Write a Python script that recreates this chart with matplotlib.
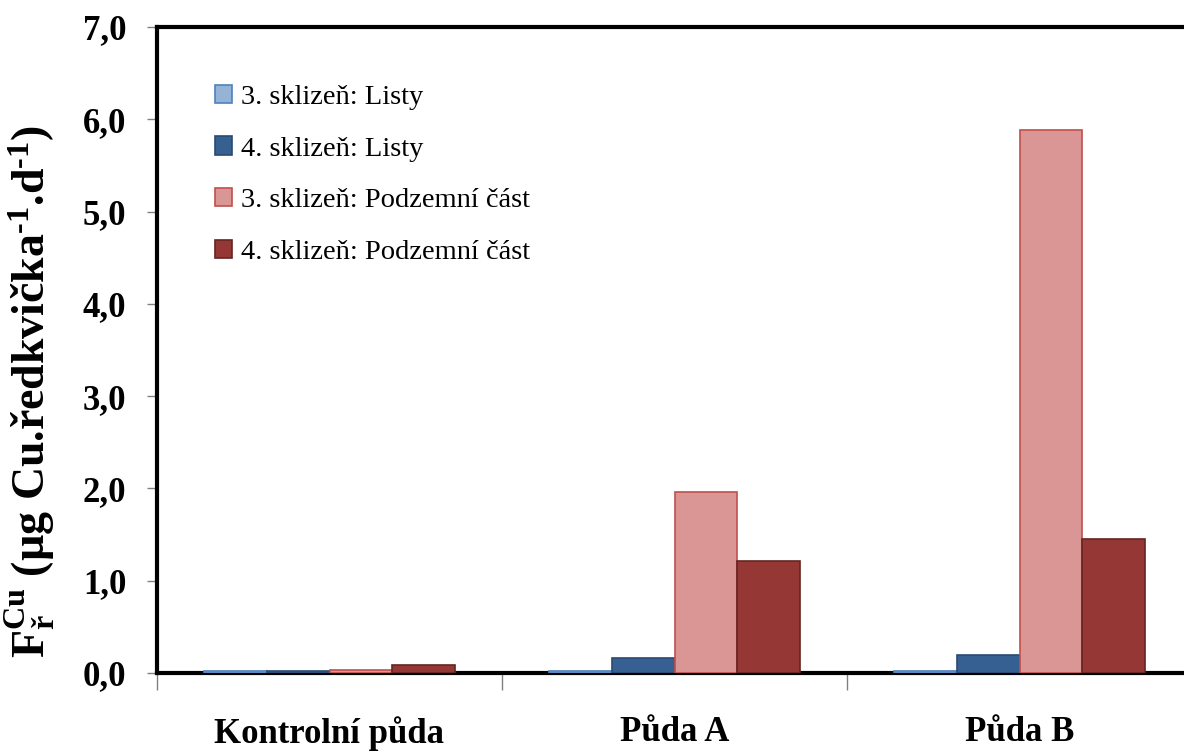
import matplotlib
matplotlib.use("Agg")
import matplotlib.pyplot as plt
import numpy as np
from matplotlib.ticker import FixedLocator, FuncFormatter

plt.rcParams['font.family'] = ['Liberation Serif', 'DejaVu Serif']
plt.rcParams['mathtext.fontset'] = 'custom'
plt.rcParams['mathtext.rm'] = 'Liberation Serif:bold'
plt.rcParams['mathtext.bf'] = 'Liberation Serif:bold'
plt.rcParams['mathtext.it'] = 'Liberation Serif:bold'

categories = ["Kontrolní půda", "Půda A", "Půda B"]
series_names = ["3. sklizeň: Listy", "4. sklizeň: Listy",
                "3. sklizeň: Podzemní část", "4. sklizeň: Podzemní část"]
listy_3 = [0.02, 0.02, 0.02]
listy_4 = [0.02, 0.16, 0.20]
podzemni_3 = [0.03, 1.96, 5.88]
podzemni_4 = [0.09, 1.21, 1.45]
y_ticks = [0, 1, 2, 3, 4, 5, 6, 7]

series = [listy_3, listy_4, podzemni_3, podzemni_4]
faces = ["#95B3D7", "#376092", "#D99694", "#953735"]
edges = ["#4F81BD", "#2A4A72", "#C0504D", "#632523"]

fig = plt.figure(figsize=(11.84, 7.51), dpi=100)
ax = fig.add_axes([157/1184, 1-673/751, (1192-157)/1184, (673-27)/751])

x = np.arange(len(categories))
bw = 1.0 / 5.5
for i, (vals, fc, ec, name) in enumerate(zip(series, faces, edges, series_names)):
    ax.bar(x + (i - 1.5) * bw, vals, width=bw, color=fc, edgecolor=ec,
           linewidth=1.2, label=name, zorder=3)

ax.set_xlim(-0.5, 2.5)
ax.set_ylim(0, 7)

ax.spines['right'].set_visible(False)
for s in ['top', 'left', 'bottom']:
    ax.spines[s].set_linewidth(3)
    ax.spines[s].set_color('black')
ax.spines['bottom'].set_zorder(2)

ax.yaxis.set_major_locator(FixedLocator(y_ticks))
ax.yaxis.set_major_formatter(FuncFormatter(lambda v, p: f"{v:.1f}".replace('.', ',')))
ax.tick_params(axis='y', direction='out', length=7, width=1, color='#808080',
               labelsize=25, pad=15)
for lab in ax.get_yticklabels():
    lab.set_fontweight('bold')

ax.set_xticks(x)
ax.set_xticklabels(categories, fontsize=25, fontweight='bold')
ax.tick_params(axis='x', which='major', length=0, pad=31)
ax.set_xticks([-0.5, 0.5, 1.5, 2.5], minor=True)
ax.tick_params(axis='x', which='minor', direction='out', length=12, width=1,
               color='#808080')

ax.set_ylabel(r'$\mathbf{F^{Cu}_{ř}}$ (µg Cu.ředkvička$^{\mathbf{‐1}}$.d$^{\mathbf{‐1}}$)',
              fontsize=33, fontweight='bold')
ax.yaxis.set_label_coords(-0.097, 0.435)

leg = ax.legend(loc='upper left', bbox_to_anchor=(0.045, 0.928), frameon=False,
                fontsize=20.5, handlelength=0.6, handleheight=0.6,
                handletextpad=0.3, labelspacing=0.93, borderaxespad=0)

fig.savefig("out.png", dpi=100)
